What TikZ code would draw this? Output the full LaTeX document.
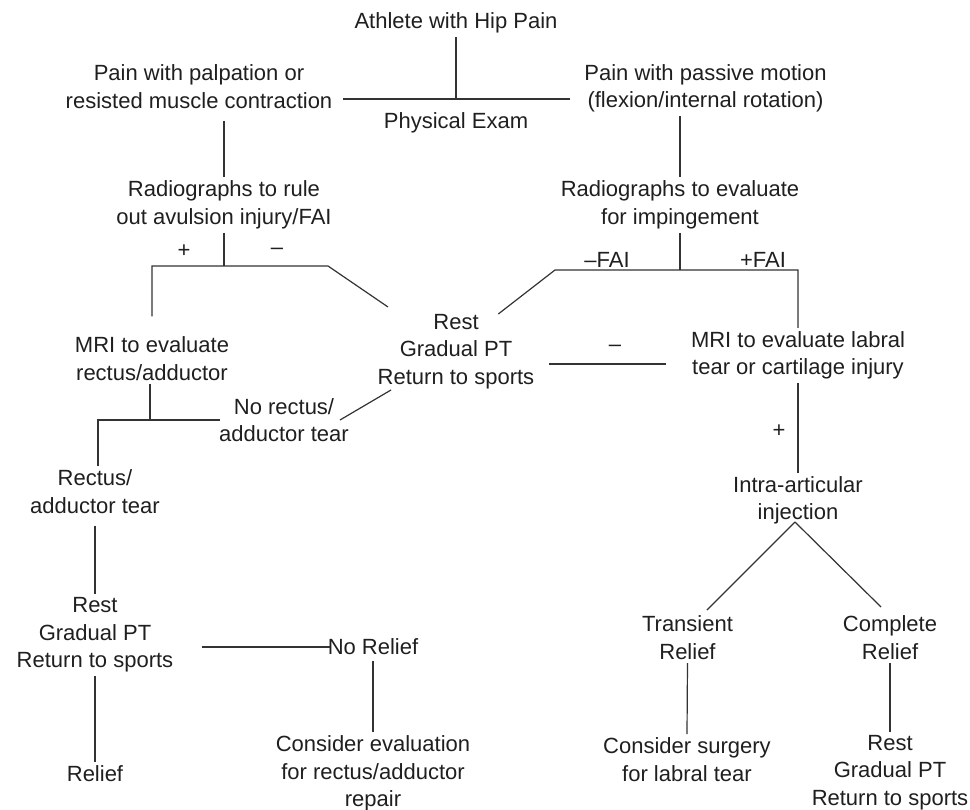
\documentclass[tikz,border=0pt]{standalone}
\usepackage{fontspec}
\setmainfont{Liberation Sans}
\usetikzlibrary{calc}
\begin{document}
\begin{tikzpicture}[x=1pt,y=-1pt,
  lbl/.style={align=center, inner sep=3.5pt, font=\fontsize{22}{27.5}\selectfont, text=black!88},
  conn/.style={line width=1.2pt, draw=black!80}]
\useasboundingbox (0,0) rectangle (970,810);

% nodes
\node[lbl] (athlete) at (456,23) {Athlete with Hip Pain};
\node[lbl] (palp) at (199,86.5) {Pain with palpation or\\resisted muscle contraction};
\node[lbl] (passive) at (705.5,88.5) {Pain with passive motion\\(flexion/internal rotation)};
\node[lbl] (exam) at (456,123) {Physical Exam};
\node[lbl] (radL) at (224,205) {Radiographs to rule\\out avulsion injury/FAI};
\node[lbl] (radR) at (680,205) {Radiographs to evaluate\\for impingement};
\node[lbl] (plusL) at (184,251) {+};
\node[lbl] (minusL) at (277,251) {–};
\node[lbl] (minusFAI) at (607,260) {–FAI};
\node[lbl] (plusFAI) at (763,260) {+FAI};
\node[lbl] (rest1) at (456,351.7) {Rest\\Gradual PT\\Return to sports};
\node[lbl] (mriL) at (152,358.5) {MRI to evaluate\\rectus/adductor};
\node[lbl] (mriR) at (798,355.5) {MRI to evaluate labral\\tear or cartilage injury};
\node[lbl] (minusM) at (615,348) {–};
\node[lbl] (notear) at (284,420) {No rectus/\\adductor tear};
\node[lbl] (tear) at (95,491.5) {Rectus/\\adductor tear};
\node[lbl] (plusM) at (779,431) {+};
\node[lbl] (intra) at (798,500.5) {Intra-articular\\injection};
\node[lbl] (rest2) at (95,635) {Rest\\Gradual PT\\Return to sports};
\node[lbl] (norelief) at (373,647) {No Relief};
\node[lbl] (transient) at (687.5,637.5) {Transient\\Relief};
\node[lbl] (complete) at (890,637.5) {Complete\\Relief};
\node[lbl] (relief) at (95,774) {Relief};
\node[lbl] (evalrep) at (373,773.7) {Consider evaluation\\for rectus/adductor\\repair};
\node[lbl] (surgery) at (687,759.7) {Consider surgery\\for labral tear};
\node[lbl] (rest3) at (890,772.6) {Rest\\Gradual PT\\Return to sports};

% junctions
\coordinate (ex) at (456,99);
\coordinate (rj) at (224,266);
\coordinate (rjl) at (152,266);
\coordinate (rjr) at (328,266);
\coordinate (mj) at (150,420);
\coordinate (mjl) at (98,420);
\coordinate (fj) at (680,270);
\coordinate (fjl) at (555,270);
\coordinate (fjr) at (798,270);

% connectors, left
\draw[conn] (athlete.south) -- (ex);
\draw[conn, shorten <=7.5pt, shorten >=10.5pt] (palp.east |- ex) -- (passive.west |- ex);
\draw[conn, shorten <=8.5pt] (palp.south -| radL) -- (radL.north);
\draw[conn] (radL.south) -- (rj);
\draw[conn, shorten <=16.5pt] (mriL.north -| rjl) -- (rjl) -- (rjr) -- ($(rest1)+(-68,-44.7)$);
\draw[conn] (mriL.south -| mj) -- (mj);
\draw[conn] (tear.north -| mjl) -- (mjl) -- ($(notear)+(-64,0)$);
\draw[conn] ($(notear)+(56,0)$) -- ($(rest1)+(-65,38.3)$);
\draw[conn, shorten <=8.5pt] (tear.south) -- (rest2.north);
\draw[conn, shorten <=25pt, shorten >=-5.7pt] (rest2.east |- norelief) -- (norelief.west);
\draw[conn, shorten <=2.5pt] (norelief.south) -- (evalrep.north);
\draw[conn] (rest2.south) -- (relief.north);

% connectors, right
\draw[conn] (passive.south -| radR) -- (radR.north);
\draw[conn] (radR.south) -- (fj);
\draw[conn] ($(rest1)+(42.3,-37.7)$) -- (fjl) -- (fjr) -- (mriR.north);
\draw[conn] ($(rest1)+(93,12.3)$) -- ($(mriR.west)+(-21.5,8.5)$);
\draw[conn] (mriR.south) -- (intra.north);
\draw[conn] ($(intra)+(-3,21.5)$) -- ($(transient)+(19.4,-27.5)$);
\draw[conn] ($(intra)+(-3,21.5)$) -- ($(complete)+(-9,-30.5)$);
\draw[conn] (transient.south) -- (surgery.north);
\draw[conn] (complete.south) -- (rest3.north);
\end{tikzpicture}
\end{document}
